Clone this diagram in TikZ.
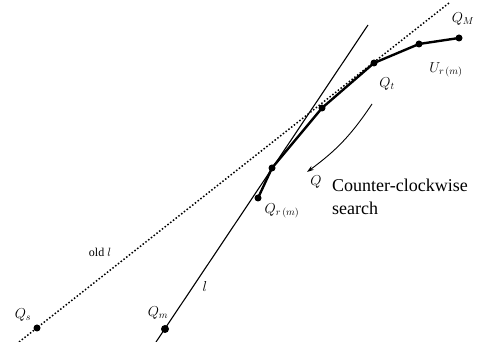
\documentclass[tikz,border=0pt]{standalone}
\usepackage{fontspec}
\setmainfont{Liberation Serif}
\usetikzlibrary{arrows.meta}

\begin{document}
\begin{tikzpicture}[x=1pt,y=-1pt,
  pt/.style={circle,fill,inner sep=0pt,minimum size=7pt},
  lbl/.style={inner sep=0pt,font=\fontsize{14}{16}\selectfont}]
\useasboundingbox (0,0) rectangle (491,342);
% points
\node[pt] (Qs) at (37,328) {};
\node[pt,minimum size=8pt] (Qm) at (165,329) {};
\node[pt] (Qr) at (258,198) {};
\node[pt] (Q) at (272,168) {};
\node[pt] (P1) at (322,108) {};
\node[pt] (Qt) at (374,63) {};
\node[pt] (P2) at (419,44) {};
\node[pt] (QM) at (459,38) {};
\coordinate (oldA) at (19,342);
\coordinate (oldB) at (449,3);
\coordinate (lA) at (156,342);
\coordinate (lB) at (368,25);
\coordinate (arrS) at (372,104);
\coordinate (arrE) at (307,172);
% lines
\draw[line width=1.5pt,dotted] (oldA) -- (oldB);
\draw[line width=1.1pt] (lA) -- (lB);
\draw[line width=2.4pt,line join=round] (Qr.center) -- (Q.center) -- (P1.center)
  -- (Qt.center) -- (P2.center) -- (QM.center);
\draw[line width=0.9pt,-{Stealth[length=7pt,width=4.5pt]}] (arrS) to[bend left=10] (arrE);
% labels
\node[lbl] (QMl) at (463,19) {$Q_M$};
\node[lbl] (Ul) at (446,70) {$U_{r\,(m)}$};
\node[lbl] (Qtl) at (387,84) {$Q_t$};
\node[lbl] (Ql) at (316,182) {$Q$};
\node[lbl] (Qrl) at (282,211) {$Q_{r\,(m)}$};
\node[lbl] (Qsl) at (23,315) {$Q_s$};
\node[lbl] (Qml) at (158,313) {$Q_m$};
\node[lbl] (ll) at (205,287) {$l$};
\node[inner sep=0pt,font=\fontsize{12}{14}\selectfont] (oldl) at (100,252) {old $l$};
\node[inner sep=0pt,align=left,anchor=base west,font=\fontsize{18}{23}\selectfont]
  (srch) at (332,215) {Counter-clockwise\\search};
\end{tikzpicture}
\end{document}
